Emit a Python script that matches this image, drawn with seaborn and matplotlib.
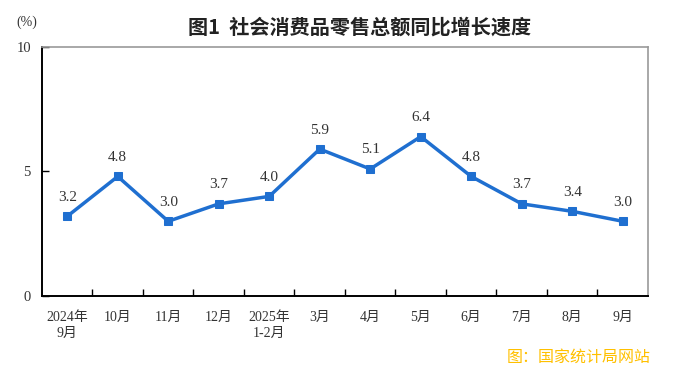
import matplotlib
matplotlib.use('Agg')
import matplotlib.pyplot as plt
import seaborn as sns
import pandas as pd

# data
months = ["2024年\n9月", "10月", "11月", "12月", "2025年\n1-2月", "3月",
          "4月", "5月", "6月", "7月", "8月", "9月"]
growth = [3.2, 4.8, 3.0, 3.7, 4.0, 5.9, 5.1, 6.4, 4.8, 3.7, 3.4, 3.0]
y_ticks = [0, 5, 10]

sns.set_theme(style="white")
plt.rcParams['font.family'] = ['Liberation Serif', 'Noto Sans CJK SC']

df = pd.DataFrame({"pos": range(len(months)), "value": growth})

fig = plt.figure(figsize=(6.74, 3.75), dpi=100)
ax = fig.add_axes([0.0623, 0.2107, 0.8991, 0.664])

line_color = "#1f6fd0"
sns.lineplot(data=df, x="pos", y="value", ax=ax, color=line_color,
             linewidth=2.5, marker="s", markersize=6,
             markeredgecolor=line_color, markerfacecolor=line_color)

for x, y in zip(df["pos"], df["value"]):
    ax.annotate(f"{y:.1f}", (x, y), xytext=(0, 9), textcoords="offset points",
                ha="center", va="bottom", fontsize=11, color="#333333")

ax.set_xlim(-0.5, len(months) - 0.5)
ax.set_ylim(0, 10)
ax.set_yticks(y_ticks)
ax.set_yticklabels([str(t) for t in y_ticks], fontsize=10.5, color="#333333")

# tick marks between categories, labels centered on categories
ax.set_xticks([i + 0.5 for i in range(len(months) - 1)])
ax.set_xticklabels([])
ax.set_xticks(range(len(months)), minor=True)
ax.set_xticklabels(months, minor=True, fontsize=10, color="#333333",
                   linespacing=1.3)
ax.tick_params(axis="x", which="major", direction="in", length=5,
               width=1, color="black", bottom=True)
ax.tick_params(axis="x", which="minor", length=0, pad=11, bottom=True)
ax.tick_params(axis="y", direction="in", length=5, width=1, color="black",
               left=True, pad=8)
ax.set_xlabel("")
ax.set_ylabel("")

for side in ["left", "bottom"]:
    ax.spines[side].set_color("black")
    ax.spines[side].set_linewidth(1.4)
for side in ["top", "right"]:
    ax.spines[side].set_color("#999999")
    ax.spines[side].set_linewidth(1.2)

fig.text(0.025, 0.941, "(%)", fontsize=10, color="#333333", ha="left",
         va="center")
fig.text(0.534, 0.928, "图1  社会消费品零售总额同比增长速度",
         family=['Noto Sans CJK SC'], fontsize=14.5, fontweight="bold",
         ha="center", va="center", color="#222222")
fig.text(0.965, 0.048, "图：国家统计局网站", family=['Noto Sans CJK SC'],
         fontsize=11.5, color="#FFC000", ha="right", va="center")

fig.savefig("out.png", dpi=100)
